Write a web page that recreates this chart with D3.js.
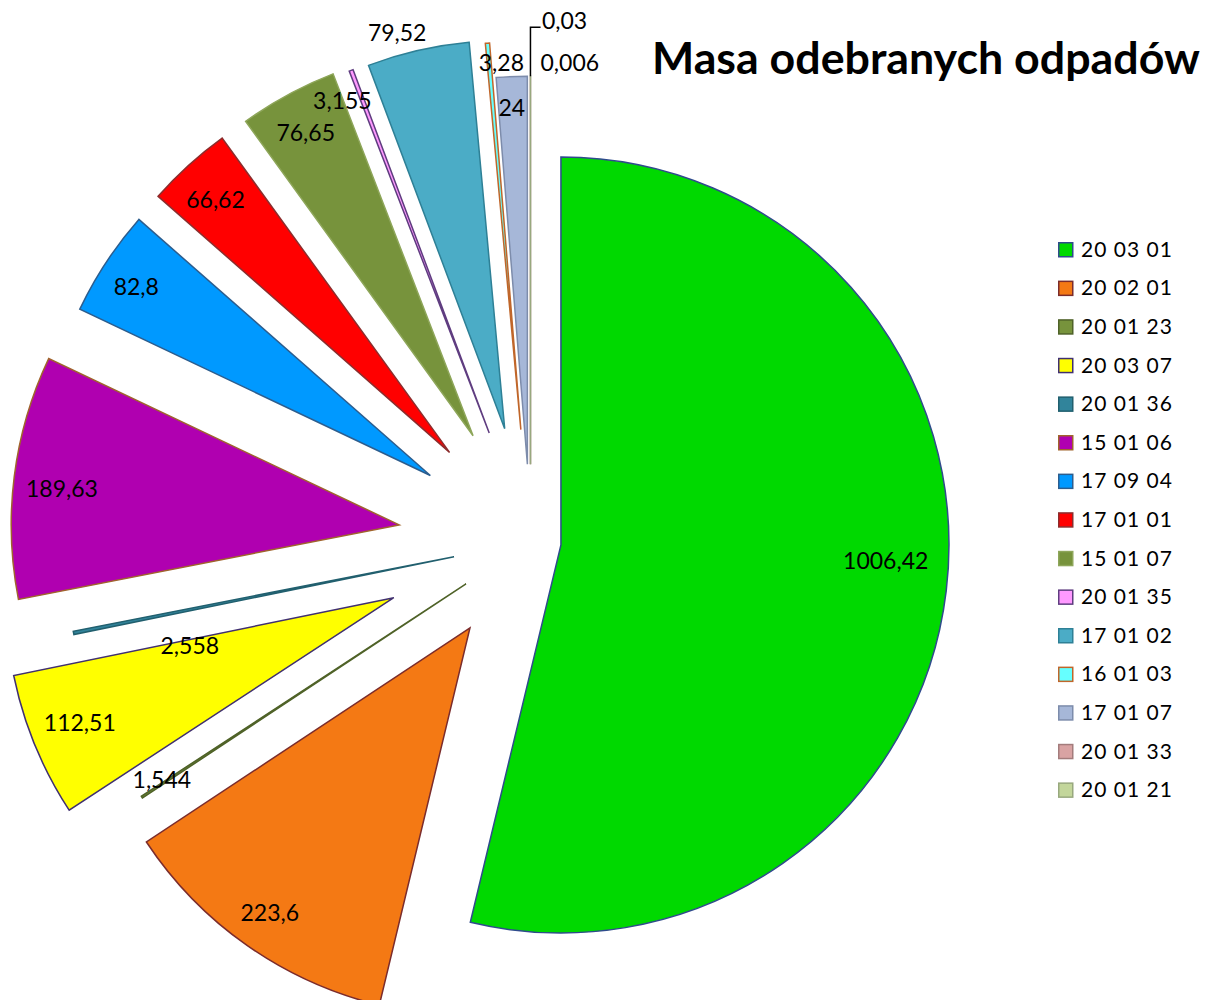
<!DOCTYPE html>
<html>
<head>
<meta charset="utf-8">
<script src="https://cdn.jsdelivr.net/npm/d3@7"></script>
<style>
  body { margin: 0; background: #fff; }
  text { font-family: Lato, "Liberation Sans", sans-serif; fill: #000; }
</style>
</head>
<body>
<div id="chart"></div>
<script>
// waste codes, in the order Excel walks the pie (clockwise from 12 o'clock)
const codes = ['20 03 01', '20 02 01', '20 01 23', '20 03 07', '20 01 36',
  '15 01 06', '17 09 04', '17 01 01', '15 01 07', '20 01 35',
  '17 01 02', '16 01 03', '17 01 07', '20 01 33', '20 01 21'];
// mass collected (Mg)
const masses = [1006.42, 223.6, 1.544, 112.51, 2.558,
  189.63, 82.8, 66.62, 76.65, 3.155,
  79.52, 3.28, 24, 0.006, 0.03];

const fills = ['#00d900', '#f47914', '#77933c', '#ffff00', '#31849b',
  '#b000b0', '#0099ff', '#ff0000', '#77933c', '#ff99ff',
  '#4bacc6', '#66ffff', '#a6b7d8', '#d9a3a3', '#c3d69b'];
const strokes = ['#2f4b8c', '#7b2c2c', '#4f6228', '#403070', '#215f6e',
  '#a0642c', '#2c5d8e', '#8c2d2d', '#8ea65a', '#5f3d80',
  '#2e8096', '#c0662a', '#7d8cab', '#a37c7c', '#98a87e'];

const WIDTH = 1212;
const HEIGHT = 1000;
const CENTER = { x: 530.5, y: 541.4 };
const RADIUS = 388;

// how far each slice is pulled out, as a share of the radius
const explode = [0.079, 0.272, 0.199, 0.381, 0.201, 0.341, 0.309, 0.31,
  0.31, 0.299, 0.298, 0.289, 0.199, 0.199, 0.199];
// data label spot: [share of radius, turn from slice middle in degrees]
const labelSpot = [[0.838, -3.9], [0.897, 0.1], [0.932, 0.6], [0.871, 0.7],
  [0.719, -7.4], [0.874, -1.1], [0.9, -0.7], [0.888, -0.5], [0.892, -0.4],
  [0.936, -3.0], [1.057, -2.3], [0.947, 1.9], [0.92, -0.2], [1.04, 5.6],
  [1.145, 4.4]];

const fmt = v => String(v).replace('.', ',');

const svg = d3.select('#chart')
  .append('svg')
  .attr('width', WIDTH)
  .attr('height', HEIGHT);

const rows = codes.map((code, i) => ({ code, value: masses[i], i }));

const pie = d3.pie()
  .sort(null)
  .value(d => d.value)
  .startAngle(0)
  .endAngle(2 * Math.PI);

const arc = d3.arc()
  .innerRadius(0)
  .outerRadius(RADIUS);

const arcs = pie(rows);

// corner of a slice after it has been pulled out
function apex(d) {
  const mid = (d.startAngle + d.endAngle) / 2;
  const e = explode[d.data.i] * RADIUS;
  return [CENTER.x + e * Math.sin(mid), CENTER.y - e * Math.cos(mid)];
}

const slices = svg.append('g')
  .attr('class', 'slices');

slices.selectAll('path')
  .data(arcs)
  .join('path')
  .attr('transform', d => `translate(${apex(d)})`)
  .attr('d', arc)
  .attr('fill', d => fills[d.data.i])
  .attr('stroke', d => strokes[d.data.i])
  .attr('stroke-width', 1.5)
  .attr('stroke-linejoin', 'miter');

// data labels
function labelPos(d) {
  const [k, turn] = labelSpot[d.data.i];
  const a = (d.startAngle + d.endAngle) / 2 + turn * Math.PI / 180;
  const [x0, y0] = apex(d);
  return [x0 + k * RADIUS * Math.sin(a), y0 - k * RADIUS * Math.cos(a)];
}

const labels = svg.append('g')
  .attr('class', 'labels');

labels.selectAll('text')
  .data(arcs)
  .join('text')
  .attr('x', d => labelPos(d)[0])
  .attr('y', d => labelPos(d)[1])
  .attr('dy', '0.35em')
  .attr('text-anchor', 'middle')
  .style('font-size', '23px')
  .text(d => fmt(d.data.value));

// leader line for the last, hair-thin slice
const last = arcs[arcs.length - 1];
const [lx, ly] = apex(last);
const lastEnd = [lx + RADIUS * Math.sin(last.startAngle), ly - RADIUS * Math.cos(last.startAngle)];
const lastLab = labelPos(last);
labels.append('path')
  .attr('d', d3.line()([lastEnd, [lastEnd[0], lastLab[1] + 6], [lastLab[0] - 24, lastLab[1] + 6]]))
  .attr('fill', 'none')
  .attr('stroke', '#000')
  .attr('stroke-width', 1.5);

// title, sized to span the same width as in the original
const title = svg.append('text')
  .attr('x', 652)
  .attr('y', 74)
  .style('font-weight', 'bold')
  .style('font-size', '40px')
  .text('Masa odebranych odpadów');
const tw = title.node().getComputedTextLength();
title.style('font-size', `${40 * 548 / tw}px`);

// legend
const legend = svg.append('g')
  .attr('class', 'legend')
  .attr('transform', 'translate(1058, 249.5)');

const item = legend.selectAll('g')
  .data(rows)
  .join('g')
  .attr('transform', d => `translate(0, ${d.i * 38.6})`);

item.append('rect')
  .attr('x', 0.75)
  .attr('y', -6.75)
  .attr('width', 14)
  .attr('height', 14)
  .attr('fill', d => fills[d.i])
  .attr('stroke', d => strokes[d.i])
  .attr('stroke-width', 1.5);

item.append('text')
  .attr('x', 23)
  .attr('dy', '0.35em')
  .style('font-size', '21px')
  .style('letter-spacing', '1px')
  .text(d => d.code);
</script>
</body>
</html>
